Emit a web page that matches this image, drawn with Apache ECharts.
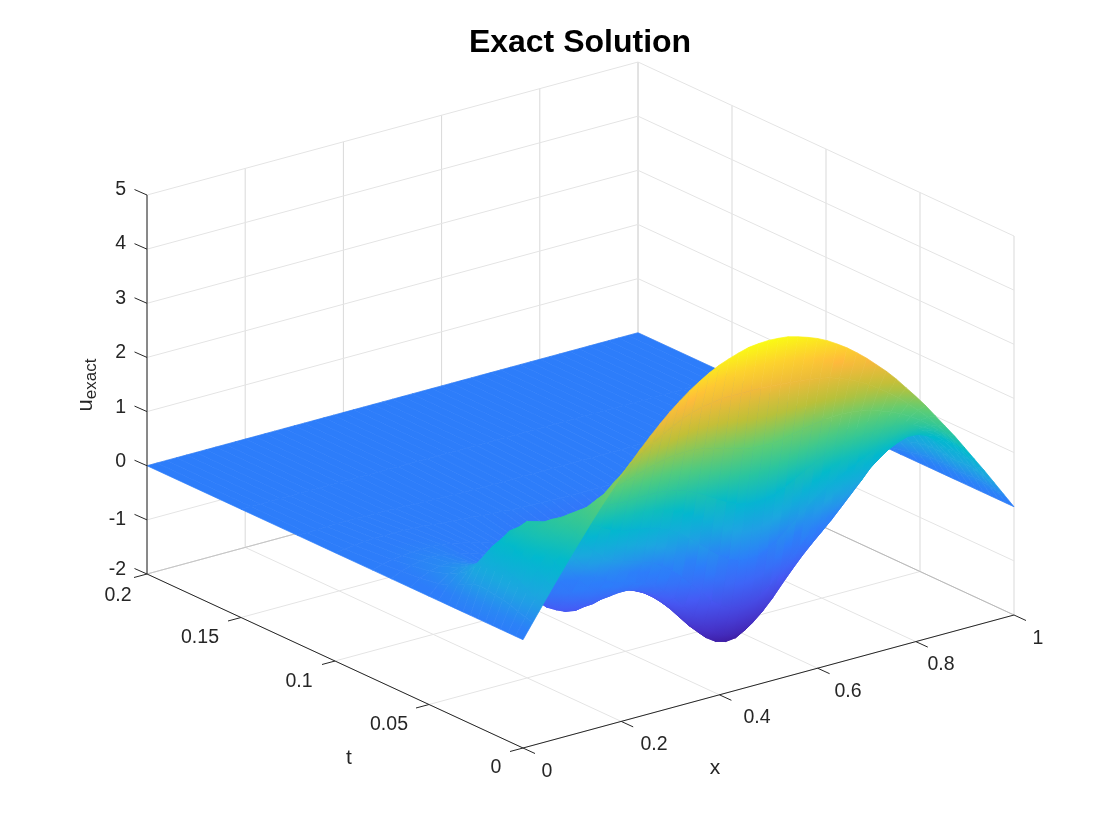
<!DOCTYPE html>
<html><head><meta charset="utf-8"><style>html,body{margin:0;padding:0;background:#fff}#c{width:1120px;height:840px}</style>
<script src="https://cdn.jsdelivr.net/npm/echarts@6/dist/echarts.min.js"></script></head><body><div id="c"></div>
<script>
// Sample positions
var xs=[0,.02,.04,.06,.08,.1,.12,.14,.16,.18,.2,.22,.24,.26,.28,.3,.32,.34,.36,.38,.4,.42,.44,.46,.48,.5,.52,.54,.56,.58,.6,.62,.64,.66,.68,.7,.72,.74,.76,.78,.8,.82,.84,.86,.88,.9,.92,.94,.96,.98,1];
var ts=[0,.004,.008,.012,.016,.02,.024,.028,.032,.036,.04,.045,.05,.06,.07,.08,.1,.12,.15,.2];
// u_exact at each t, in hundredths, one value per x
var u_t000=[0,27,54,81,107,133,158,183,207,230,253,274,294,313,331,348,363,377,389,400,409,416,422,427,429,430,429,427,422,416,409,400,389,377,363,348,331,314,295,274,253,231,207,183,159,133,107,81,54,27,0];
var u_t004=[0,30,60,88,115,139,162,182,201,218,234,249,263,276,288,299,309,318,325,330,333,336,336,336,336,335,334,333,331,330,327,324,320,314,307,298,288,276,263,249,233,216,198,178,157,134,109,83,56,28,0];
var u_t008=[0,35,69,100,127,149,168,182,192,201,208,214,220,226,232,238,242,245,246,245,242,238,232,227,222,219,218,218,220,224,228,232,235,237,237,236,233,229,223,216,208,198,186,172,156,136,114,88,60,31,0];
var u_t012=[0,40,77,110,137,157,170,178,180,180,178,176,174,173,174,174,174,172,169,162,154,144,133,123,115,109,107,109,113,121,131,141,150,159,165,170,174,177,178,179,178,176,171,163,152,136,116,91,63,32,0];
var u_t016=[0,43,83,117,143,159,167,166,160,150,138,128,119,112,108,105,101,96,88,78,64,49,33,18,6,-2,-5,-2,6,18,33,48,64,78,90,101,110,119,127,135,142,147,150,149,144,132,115,92,64,33,0];
var u_t020=[0,45,87,120,143,155,156,148,133,114,95,77,62,51,44,38,33,26,16,3,-14,-33,-53,-72,-87,-97,-100,-97,-88,-73,-55,-35,-16,2,18,33,47,61,76,90,104,117,126,132,131,124,110,89,62,32,0];
var u_t024=[0,48,91,125,146,155,150,136,114,88,62,39,20,7,-2,-7,-12,-18,-28,-42,-60,-81,-103,-123,-140,-152,-157,-154,-144,-128,-109,-87,-66,-46,-28,-11,6,25,44,63,83,100,115,125,127,123,110,89,63,32,0];
var u_t028=[0,50,91,120,136,139,132,115,92,67,38,12,-7,-19,-26,-29,-32,-36,-44,-57,-75,-96,-119,-140,-159,-171,-176,-174,-164,-148,-129,-107,-85,-65,-47,-29,-10,10,32,54,77,98,116,127,132,127,114,93,65,33,0];
var u_t032=[0,46,82,106,116,114,103,84,60,33,5,-19,-35,-44,-46,-44,-42,-42,-49,-60,-77,-96,-117,-138,-156,-168,-173,-172,-163,-149,-130,-110,-90,-71,-54,-36,-17,5,28,53,78,101,119,132,136,131,117,95,66,34,0];
var u_t036=[0,40,68,84,88,82,70,54,32,7,-20,-42,-55,-61,-60,-55,-51,-49,-53,-63,-76,-92,-109,-126,-141,-152,-157,-157,-150,-139,-125,-108,-91,-75,-59,-42,-22,1,26,52,78,101,120,133,136,131,116,94,65,34,0];
var u_t040=[0,32,52,62,62,56,46,32,12,-15,-41,-60,-71,-74,-71,-64,-58,-55,-58,-66,-76,-89,-103,-116,-128,-137,-142,-141,-137,-128,-117,-104,-90,-76,-61,-46,-26,-4,21,48,74,97,116,128,132,127,113,91,63,33,0];
var u_t045=[0,24,40,48,48,42,32,18,0,-26,-49,-66,-76,-79,-77,-72,-67,-64,-67,-73,-80,-88,-98,-107,-115,-121,-125,-125,-123,-118,-111,-102,-92,-81,-69,-55,-37,-16,8,33,57,80,98,110,115,111,100,81,57,29,0];
var u_t050=[0,18,31,38,38,33,24,11,-4,-25,-45,-60,-69,-73,-72,-68,-65,-63,-66,-71,-77,-83,-89,-96,-102,-106,-109,-109,-108,-104,-99,-93,-85,-76,-66,-53,-38,-20,0,22,43,63,80,91,96,94,85,70,49,25,0];
var u_t060=[0,12,20,25,26,23,18,11,2,-10,-23,-34,-42,-47,-49,-51,-51,-53,-57,-61,-65,-69,-72,-75,-78,-80,-81,-82,-81,-79,-77,-72,-67,-61,-52,-43,-31,-18,-3,12,27,41,52,60,64,64,58,48,34,18,0];
var u_t070=[0,9,15,18,20,19,16,12,7,2,-6,-14,-20,-25,-29,-32,-34,-37,-41,-44,-47,-49,-51,-53,-54,-55,-56,-56,-55,-54,-52,-50,-46,-42,-36,-29,-21,-12,-2,9,19,28,36,41,44,43,40,33,23,12,0];
var u_t080=[0,6,10,12,14,14,14,13,10,6,2,-3,-7,-12,-15,-19,-21,-24,-27,-29,-31,-33,-34,-34,-35,-35,-35,-35,-35,-34,-34,-32,-30,-27,-23,-19,-13,-7,-1,6,12,18,23,26,27,27,24,20,14,8,0];
var u_t100=[0,2,4,6,7,7,7,7,6,5,3,1,0,-2,-3,-5,-6,-7,-9,-10,-10,-11,-11,-12,-12,-12,-12,-12,-12,-12,-12,-11,-10,-9,-8,-6,-4,-2,0,2,4,6,7,8,8,8,7,6,4,2,0];
var u_t120=[0,0,1,1,2,2,2,1,1,1,0,0,-1,-2,-2,-3,-3,-4,-4,-4,-4,-4,-4,-4,-4,-4,-4,-4,-4,-4,-4,-4,-4,-4,-3,-3,-2,-2,-1,0,0,1,1,1,2,2,2,1,1,0,0];
var u_t150=[0,0,0,0,0,0,0,0,0,0,0,0,0,0,0,0,0,0,0,0,0,0,0,0,0,0,0,0,0,0,0,0,0,0,0,0,0,0,0,0,0,0,0,0,0,0,0,0,0,0,0];
var u_t200=[0,0,0,0,0,0,0,0,0,0,0,0,0,0,0,0,0,0,0,0,0,0,0,0,0,0,0,0,0,0,0,0,0,0,0,0,0,0,0,0,0,0,0,0,0,0,0,0,0,0,0];
var zTicks=[-2,-1,0,1,2,3,4,5],xTicks=[0,.2,.4,.6,.8,1],tTicks=[0,.05,.1,.15,.2];
var U=[u_t000,u_t004,u_t008,u_t012,u_t016,u_t020,u_t024,u_t028,u_t032,u_t036,u_t040,u_t045,u_t050,u_t060,u_t070,u_t080,u_t100,u_t120,u_t150,u_t200].map(function(r){return r.map(function(v){return v/100;});});
var colorU=[-1.75,-1.4,-.7,-.1,.1,.6,1.2,1.7,2.2,2.8,3.5,4.3];
var colorC=[[62,30,165],[70,50,200],[70,90,245],[45,125,250],[45,125,250],[30,165,225],[0,185,205],[45,198,155],[95,205,115],[190,192,55],[255,185,60],[250,250,20]];
function P(x,t,z){return [523+491*x-376*t/.2,748-133*x-174*t/.2-54.14*(z+2)];}
function col(u){var n=colorU.length;if(u<=colorU[0])return colorC[0];if(u>=colorU[n-1])return colorC[n-1];for(var i=1;i<n;i++)if(u<=colorU[i]){var f=(u-colorU[i-1])/(colorU[i]-colorU[i-1]);var a=colorC[i-1],b=colorC[i];return [a[0]+(b[0]-a[0])*f,a[1]+(b[1]-a[1])*f,a[2]+(b[2]-a[2])*f];}}
function css(c){return 'rgb('+Math.round(c[0])+','+Math.round(c[1])+','+Math.round(c[2])+')';}
var quads=[];
for(var j=0;j<ts.length-1;j++)for(var i=0;i<xs.length-1;i++){
 var ua=(U[j][i]+U[j][i+1]+U[j+1][i]+U[j+1][i+1])/4;
 var d=376*(xs[i]+xs[i+1])/2+491*(ts[j]+ts[j+1])/2/.2-359*(ua+2)/7;
 quads.push([i,j,d]);
}
quads.sort(function(a,b){return b[2]-a[2];});
var gridSegs=[];
function seg(a,b,c){gridSegs.push([a[0],a[1],b[0],b[1],c]);}
var gc='#e4e4e4',gc2='#d9d9d9';
xTicks.forEach(function(x){seg(P(x,0,-2),P(x,.2,-2),gc);seg(P(x,.2,-2),P(x,.2,5),gc2);});
tTicks.forEach(function(t){seg(P(0,t,-2),P(1,t,-2),gc);seg(P(1,t,-2),P(1,t,5),gc2);});
zTicks.forEach(function(z){seg(P(0,.2,z),P(1,.2,z),gc);seg(P(1,.2,z),P(1,0,z),gc);});
seg(P(0,.2,-2),P(1,.2,-2),'#c4c4c4');seg(P(1,.2,-2),P(1,0,-2),'#b8b8b8');
var axisSegs=[];
function aseg(a,dx,dy){axisSegs.push([a[0],a[1],a[0]+dx,a[1]+dy]);}
axisSegs.push(P(0,.2,-2).concat(P(0,.2,5)));axisSegs.push(P(0,0,-2).concat(P(0,.2,-2)));axisSegs.push(P(0,0,-2).concat(P(1,0,-2)));
zTicks.forEach(function(z){aseg(P(0,.2,z),-12.5,-5.5);});
tTicks.forEach(function(t){aseg(P(0,t,-2),-13,3.5);});
xTicks.forEach(function(x){aseg(P(x,0,-2),12,5.5);});
var labels=[['5',126,188],['4',126,242],['3',126,297],['2',126,351],['1',126,406],['0',126,460],['-1',126,518],['-2',126,568],
['0.2',118,594],['0.15',200,636],['0.1',299,680],['0.05',389,723],['0',496,766],['t',349,756],
['0',547,770],['0.2',654,743],['0.4',757,716],['0.6',848,690],['0.8',941,663],['1',1038,637],['x',715,766]];
var chart=echarts.init(document.getElementById('c'));
function line(api,s,c,w){var a=api.coord([s[0],s[1]]),b=api.coord([s[2],s[3]]);return {type:'line',shape:{x1:a[0],y1:a[1],x2:b[0],y2:b[1]},style:{stroke:c,lineWidth:w}};}
chart.setOption({animation:false,
 title:{text:'Exact Solution',left:575,top:22,textAlign:'center',textStyle:{fontFamily:'Liberation Sans',fontSize:32,fontWeight:'bold',color:'#000'}},
 grid:{left:0,right:0,top:0,bottom:0},
 xAxis:{type:'value',min:0,max:1120,show:false},yAxis:{type:'value',min:0,max:840,inverse:true,show:false},
 series:[
 {type:'custom',coordinateSystem:'cartesian2d',silent:true,clip:false,z:1,data:gridSegs.map(function(s){return s.slice(0,4);}),
  renderItem:function(p,api){var s=gridSegs[p.dataIndex];return line(api,s,s[4],1);}},
 {type:'custom',coordinateSystem:'cartesian2d',silent:true,clip:false,z:2,progressive:0,data:quads.map(function(q){return [q[0],q[1]];}),
  renderItem:function(p,api){var q=quads[p.dataIndex],i=q[0],j=q[1];
   var C=[[i,j],[i+1,j],[i+1,j+1],[i,j+1]].map(function(k){var a=P(xs[k[0]],ts[k[1]],U[k[1]][k[0]]);return api.coord(a);});
   var u=[U[j][i],U[j][i+1],U[j+1][i+1],U[j+1][i]];
   var ua=(u[0]+u[1]+u[2]+u[3])/4,fill=css(col(ua));
   var pix=(C[1][0]+C[2][0]-C[0][0]-C[3][0])/2,piy=(C[1][1]+C[2][1]-C[0][1]-C[3][1])/2;
   var pjx=(C[3][0]+C[2][0]-C[0][0]-C[1][0])/2,pjy=(C[3][1]+C[2][1]-C[0][1]-C[1][1])/2;
   var ui=(u[1]+u[2]-u[0]-u[3])/2,uj=(u[3]+u[2]-u[0]-u[1])/2,det=pix*pjy-piy*pjx;
   var du=(Math.max.apply(null,u)-Math.min.apply(null,u))/2;
   if(Math.abs(det)>6&&du>.015){var gx=(ui*pjy-uj*piy)/det,gy=(uj*pix-ui*pjx)/det,g2=gx*gx+gy*gy;
    if(g2>1e-7){var cx=(C[0][0]+C[1][0]+C[2][0]+C[3][0])/4,cy=(C[0][1]+C[1][1]+C[2][1]+C[3][1])/4;
     fill=new echarts.graphic.LinearGradient(cx-gx/g2*du,cy-gy/g2*du,cx+gx/g2*du,cy+gy/g2*du,[{offset:0,color:css(col(ua-du))},{offset:.5,color:css(col(ua))},{offset:1,color:css(col(ua+du))}],true);}}
   return {type:'polygon',shape:{points:C},style:{fill:fill,stroke:fill,lineWidth:.7}};}},
 {type:'custom',coordinateSystem:'cartesian2d',silent:true,clip:false,z:3,data:axisSegs,
  renderItem:function(p,api){return line(api,axisSegs[p.dataIndex],'#262626',1);}},
 {type:'custom',coordinateSystem:'cartesian2d',silent:true,clip:false,z:4,data:labels.map(function(l){return [l[1],l[2]];}),
  renderItem:function(p,api){var l=labels[p.dataIndex],a=api.coord([l[1],l[2]]);var right=p.dataIndex<8;var big=l[0]=='t'||l[0]=='x';
   return {type:'text',x:a[0],y:a[1]+2,style:{text:l[0],fill:'#262626',font:(big?21:19.5)+'px "Liberation Sans"',align:right?'right':'center',verticalAlign:'middle'}};}},
 {type:'custom',coordinateSystem:'cartesian2d',silent:true,clip:false,z:4,data:[[86,385]],
  renderItem:function(p,api){var a=api.coord([86,385]);
   return {type:'text',x:a[0],y:a[1],rotation:Math.PI/2,style:{text:'{a|u}{b|exact}',align:'center',verticalAlign:'middle',rich:{a:{fontSize:22,fontFamily:'Liberation Sans',fill:'#262626'},b:{fontSize:17,fontFamily:'Liberation Sans',fill:'#262626',padding:[10,0,0,0]}}}};}}
 ]});
</script></body></html>
